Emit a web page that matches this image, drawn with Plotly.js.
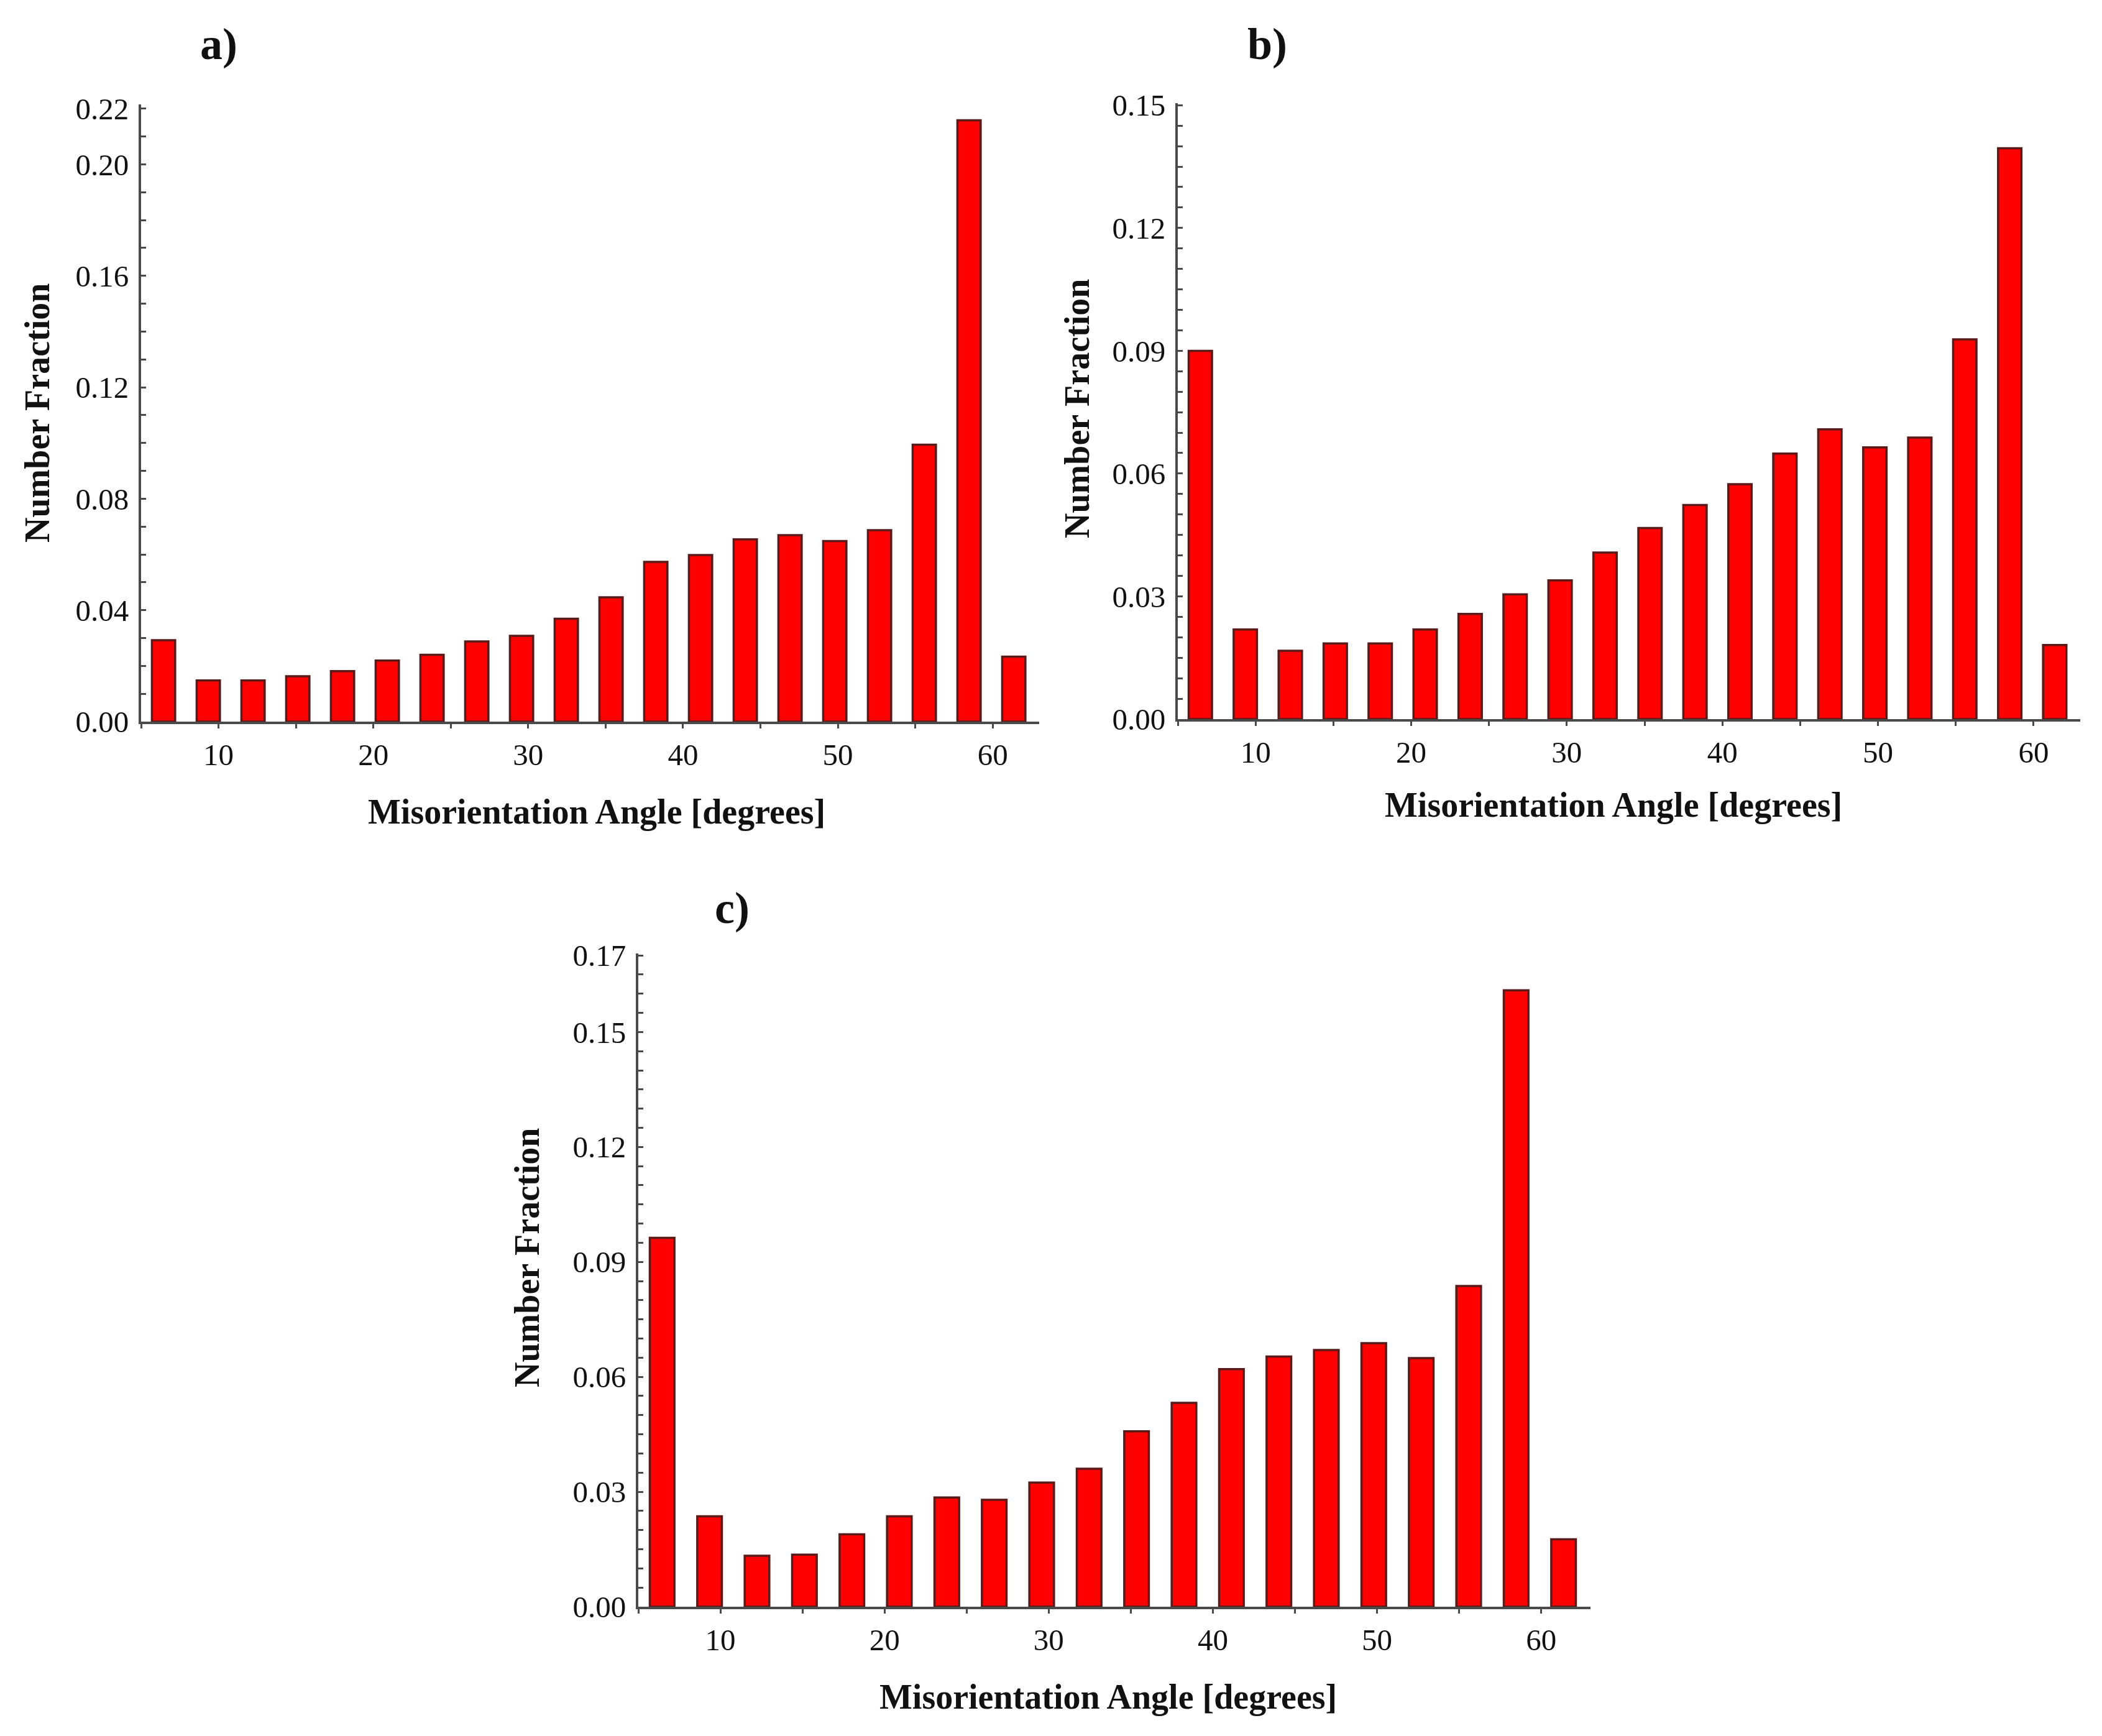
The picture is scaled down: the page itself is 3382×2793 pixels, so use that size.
<!DOCTYPE html>
<html>
<head>
<meta charset="utf-8">
<script src="https://cdn.plot.ly/plotly-3.0.1.min.js"></script>
<style>
  html, body { margin: 0; padding: 0; background: #fff; }
  #chart { width: 3382px; height: 2793px; }
</style>
</head>
<body>
<div id="chart"></div>
<script>
// bin centres of the misorientation histogram (degrees)
const binCenters = [6.45, 9.34, 12.23, 15.12, 18.01, 20.90, 23.79, 26.68, 29.57, 32.46,
                    35.35, 38.24, 41.13, 44.02, 46.91, 49.80, 52.69, 55.58, 58.47, 61.36];

// number fraction
const fracA = [0.0292, 0.0148, 0.0148, 0.0163, 0.0181, 0.0219, 0.0240, 0.0288, 0.0308, 0.0369,
               0.0446, 0.0573, 0.0598, 0.0654, 0.0669, 0.0648, 0.0687, 0.0994, 0.2158, 0.0233];
const fracB = [0.0900, 0.0219, 0.0167, 0.0185, 0.0185, 0.0219, 0.0257, 0.0305, 0.0339, 0.0407,
               0.0467, 0.0523, 0.0574, 0.0649, 0.0708, 0.0664, 0.0688, 0.0928, 0.1395, 0.0181];
const fracC = [0.0963, 0.0236, 0.0133, 0.0136, 0.0189, 0.0236, 0.0285, 0.0279, 0.0324, 0.0360,
               0.0458, 0.0532, 0.0620, 0.0653, 0.0670, 0.0688, 0.0649, 0.0837, 0.1609, 0.0176];

const yTicksA = [0, 0.04, 0.08, 0.12, 0.16, 0.20, 0.22];
const yTicksB = [0, 0.03, 0.06, 0.09, 0.12, 0.15];
const yTicksC = [0, 0.03, 0.06, 0.09, 0.12, 0.15, 0.17];
const xTicks = [10, 20, 30, 40, 50, 60];

const panelLabels = ["a)", "b)", "c)"];
const xTitle = "Misorientation Angle [degrees]";
const yTitle = "Number Fraction";

const W = 3382, H = 2793;
function px(x) { return x / W; }
function py(y) { return 1 - y / H; }

function barTrace(values, xa, ya) {
    return {
        type: 'bar',
        x: binCenters,
        y: values,
        width: 1.5,
        xaxis: xa,
        yaxis: ya,
        marker: {
            color: '#ff0000',
            line: { color: '#5a1a1a', width: 3.5 }
        },
        showlegend: false,
        hoverinfo: 'x+y'
    };
}

const tickFont = { family: 'Liberation Serif, Times New Roman, serif', size: 49, color: '#111' };
const axisColor = '#4a4a4a';

function xAxis(domain, anchor) {
    return {
        domain: domain,
        anchor: anchor,
        range: [5, 63],
        tickvals: xTicks,
        ticktext: xTicks.map(String),
        ticks: 'outside',
        ticklen: 7,
        tickwidth: 3,
        tickcolor: axisColor,
        minor: { dtick: 5, tick0: 0, ticks: 'outside', ticklen: 7, tickwidth: 3, tickcolor: axisColor },
        showline: true,
        linecolor: axisColor,
        linewidth: 4,
        showgrid: false,
        zeroline: false,
        tickfont: tickFont,
        ticklabelstandoff: 0,
        fixedrange: true
    };
}

function yAxis(domain, anchor, top, ticks, minorStep) {
    return {
        domain: domain,
        anchor: anchor,
        range: [0, top],
        tickvals: ticks,
        ticktext: ticks.map(v => v.toFixed(2)),
        ticks: 'inside',
        ticklen: 8,
        tickwidth: 3,
        tickcolor: axisColor,
        minor: { dtick: minorStep, tick0: 0, ticks: 'inside', ticklen: 8, tickwidth: 3, tickcolor: axisColor },
        showline: true,
        linecolor: axisColor,
        linewidth: 4,
        showgrid: false,
        zeroline: false,
        tickfont: tickFont,
        ticklabelstandoff: 6,
        fixedrange: true
    };
}

const titleFont = { family: 'Liberation Serif, Times New Roman, serif', size: 56, color: '#111' };
const labelFont = { family: 'Liberation Serif, Times New Roman, serif', size: 72, color: '#111' };

function note(text, x, y, font, angle) {
    return {
        text: '<b>' + text + '</b>',
        xref: 'paper', yref: 'paper',
        x: px(x), y: py(y),
        xanchor: 'center', yanchor: 'middle',
        showarrow: false,
        font: font,
        textangle: angle || 0
    };
}

const data = [
    barTrace(fracA, 'x', 'y'),
    barTrace(fracB, 'x2', 'y2'),
    barTrace(fracC, 'x3', 'y3')
];

const layout = {
    width: W,
    height: H,
    margin: { l: 0, r: 0, t: 0, b: 0 },
    paper_bgcolor: '#ffffff',
    plot_bgcolor: '#ffffff',
    bargap: 0,
    xaxis: xAxis([px(227), px(1672)], 'y'),
    yaxis: yAxis([py(1161), py(168)], 'x', 0.2215, yTicksA, 0.01),
    xaxis2: xAxis([px(1895), px(3347)], 'y2'),
    yaxis2: yAxis([py(1157), py(166)], 'x2', 0.1505, yTicksB, 0.005),
    xaxis3: xAxis([px(1027), px(2559)], 'y3'),
    yaxis3: yAxis([py(2585), py(1534)], 'x3', 0.1705, yTicksC, 0.005),
    annotations: [
        note(panelLabels[0], 352, 71, labelFont),
        note(panelLabels[1], 2039, 71, labelFont),
        note(panelLabels[2], 1178, 1461, labelFont),
        note(yTitle, 60, 665, titleFont, -90),
        note(yTitle, 1733, 658, titleFont, -90),
        note(yTitle, 848, 2024, titleFont, -90),
        note(xTitle, 960, 1306, titleFont),
        note(xTitle, 2596, 1295, titleFont),
        note(xTitle, 1783, 2730, titleFont)
    ]
};

Plotly.newPlot('chart', data, layout, { staticPlot: true });
</script>
</body>
</html>
